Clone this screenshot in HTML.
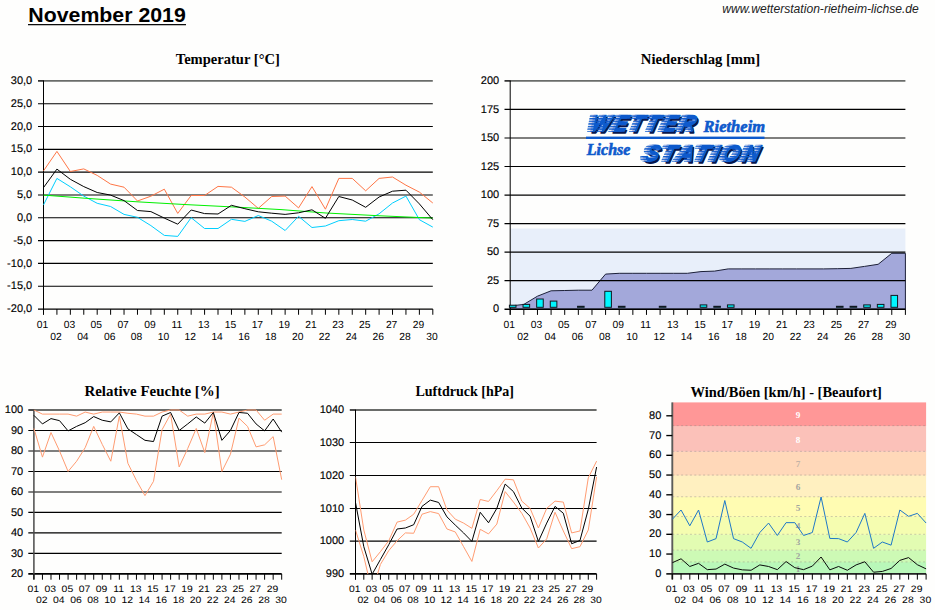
<!DOCTYPE html>
<html><head><meta charset="utf-8"><title>November 2019</title>
<style>
html,body{margin:0;padding:0;background:#fefefd;}
body{width:935px;height:610px;overflow:hidden;font-family:"Liberation Sans",sans-serif;}
svg{display:block;position:absolute;left:0;top:0;}
.ax{stroke:#000;stroke-width:1;fill:none}
.gr{stroke:#000;stroke-width:1.15;fill:none}
.lbl text{font-family:"Liberation Sans",sans-serif;fill:#000;text-rendering:geometricPrecision}
.ln{fill:none;stroke-width:1;stroke-linejoin:round}
</style></head><body>
<svg width="935" height="610" viewBox="0 0 935 610">
<rect width="935" height="610" fill="#fefefd"/>

<text x="28.3" y="21.75" textLength="157.5" lengthAdjust="spacingAndGlyphs" style="font-family:'Liberation Sans',sans-serif;font-weight:bold;font-size:19.6px" fill="#000">November 2019</text>
<rect x="28" y="24.05" width="158" height="1.2" fill="#000"/>
<text x="722.3" y="12.5" textLength="196.5" lengthAdjust="spacingAndGlyphs" style="font-family:'Liberation Sans',sans-serif;font-style:italic;font-size:12px" fill="#222">www.wetterstation-rietheim-lichse.de</text>
<text x="175.8" y="64" textLength="104" lengthAdjust="spacingAndGlyphs" style="font-family:'Liberation Serif',serif;font-weight:bold;font-size:15.5px" fill="#000">Temperatur [°C]</text>
<line x1="43.5" y1="80.9" x2="432.8" y2="80.9" stroke="#6a6c6a" stroke-width="1.8"/><line x1="38" y1="80.9" x2="44" y2="80.9" stroke="#111" stroke-width="1.5"/><line x1="38" y1="103.72" x2="432.8" y2="103.72" class="gr"/><line x1="38" y1="126.53" x2="432.8" y2="126.53" class="gr"/><line x1="38" y1="149.35" x2="432.8" y2="149.35" class="gr"/><line x1="38" y1="172.16" x2="432.8" y2="172.16" class="gr"/><line x1="38" y1="194.98" x2="432.8" y2="194.98" class="gr"/><line x1="38" y1="217.79" x2="432.8" y2="217.79" class="gr"/><line x1="38" y1="240.61" x2="432.8" y2="240.61" class="gr"/><line x1="38" y1="263.42" x2="432.8" y2="263.42" class="gr"/><line x1="38" y1="286.24" x2="432.8" y2="286.24" class="gr"/><line x1="38" y1="309.05" x2="432.8" y2="309.05" stroke="#000" stroke-width="1.3"/>
<line x1="43.5" y1="80.9" x2="43.5" y2="314.55" class="ax"/>
<line x1="43.5" y1="309.05" x2="43.5" y2="314.75" class="ax" style="stroke-width:1"/><line x1="56.92" y1="309.05" x2="56.92" y2="314.75" class="ax" style="stroke-width:1"/><line x1="70.35" y1="309.05" x2="70.35" y2="314.75" class="ax" style="stroke-width:1"/><line x1="83.77" y1="309.05" x2="83.77" y2="314.75" class="ax" style="stroke-width:1"/><line x1="97.2" y1="309.05" x2="97.2" y2="314.75" class="ax" style="stroke-width:1"/><line x1="110.62" y1="309.05" x2="110.62" y2="314.75" class="ax" style="stroke-width:1"/><line x1="124.04" y1="309.05" x2="124.04" y2="314.75" class="ax" style="stroke-width:1"/><line x1="137.47" y1="309.05" x2="137.47" y2="314.75" class="ax" style="stroke-width:1"/><line x1="150.89" y1="309.05" x2="150.89" y2="314.75" class="ax" style="stroke-width:1"/><line x1="164.32" y1="309.05" x2="164.32" y2="314.75" class="ax" style="stroke-width:1"/><line x1="177.74" y1="309.05" x2="177.74" y2="314.75" class="ax" style="stroke-width:1"/><line x1="191.17" y1="309.05" x2="191.17" y2="314.75" class="ax" style="stroke-width:1"/><line x1="204.59" y1="309.05" x2="204.59" y2="314.75" class="ax" style="stroke-width:1"/><line x1="218.01" y1="309.05" x2="218.01" y2="314.75" class="ax" style="stroke-width:1"/><line x1="231.44" y1="309.05" x2="231.44" y2="314.75" class="ax" style="stroke-width:1"/><line x1="244.86" y1="309.05" x2="244.86" y2="314.75" class="ax" style="stroke-width:1"/><line x1="258.29" y1="309.05" x2="258.29" y2="314.75" class="ax" style="stroke-width:1"/><line x1="271.71" y1="309.05" x2="271.71" y2="314.75" class="ax" style="stroke-width:1"/><line x1="285.13" y1="309.05" x2="285.13" y2="314.75" class="ax" style="stroke-width:1"/><line x1="298.56" y1="309.05" x2="298.56" y2="314.75" class="ax" style="stroke-width:1"/><line x1="311.98" y1="309.05" x2="311.98" y2="314.75" class="ax" style="stroke-width:1"/><line x1="325.41" y1="309.05" x2="325.41" y2="314.75" class="ax" style="stroke-width:1"/><line x1="338.83" y1="309.05" x2="338.83" y2="314.75" class="ax" style="stroke-width:1"/><line x1="352.26" y1="309.05" x2="352.26" y2="314.75" class="ax" style="stroke-width:1"/><line x1="365.68" y1="309.05" x2="365.68" y2="314.75" class="ax" style="stroke-width:1"/><line x1="379.1" y1="309.05" x2="379.1" y2="314.75" class="ax" style="stroke-width:1"/><line x1="392.53" y1="309.05" x2="392.53" y2="314.75" class="ax" style="stroke-width:1"/><line x1="405.95" y1="309.05" x2="405.95" y2="314.75" class="ax" style="stroke-width:1"/><line x1="419.38" y1="309.05" x2="419.38" y2="314.75" class="ax" style="stroke-width:1"/><line x1="432.8" y1="309.05" x2="432.8" y2="314.75" class="ax" style="stroke-width:1"/>
<g class="lbl"><text x="42.6" y="327.7" text-anchor="middle" style="font-size:10.3px">01</text><text x="56.02" y="339.6" text-anchor="middle" style="font-size:10.3px">02</text><text x="69.45" y="327.7" text-anchor="middle" style="font-size:10.3px">03</text><text x="82.87" y="339.6" text-anchor="middle" style="font-size:10.3px">04</text><text x="96.3" y="327.7" text-anchor="middle" style="font-size:10.3px">05</text><text x="109.72" y="339.6" text-anchor="middle" style="font-size:10.3px">06</text><text x="123.14" y="327.7" text-anchor="middle" style="font-size:10.3px">07</text><text x="136.57" y="339.6" text-anchor="middle" style="font-size:10.3px">08</text><text x="149.99" y="327.7" text-anchor="middle" style="font-size:10.3px">09</text><text x="163.42" y="339.6" text-anchor="middle" style="font-size:10.3px">10</text><text x="176.84" y="327.7" text-anchor="middle" style="font-size:10.3px">11</text><text x="190.27" y="339.6" text-anchor="middle" style="font-size:10.3px">12</text><text x="203.69" y="327.7" text-anchor="middle" style="font-size:10.3px">13</text><text x="217.11" y="339.6" text-anchor="middle" style="font-size:10.3px">14</text><text x="230.54" y="327.7" text-anchor="middle" style="font-size:10.3px">15</text><text x="243.96" y="339.6" text-anchor="middle" style="font-size:10.3px">16</text><text x="257.39" y="327.7" text-anchor="middle" style="font-size:10.3px">17</text><text x="270.81" y="339.6" text-anchor="middle" style="font-size:10.3px">18</text><text x="284.23" y="327.7" text-anchor="middle" style="font-size:10.3px">19</text><text x="297.66" y="339.6" text-anchor="middle" style="font-size:10.3px">20</text><text x="311.08" y="327.7" text-anchor="middle" style="font-size:10.3px">21</text><text x="324.51" y="339.6" text-anchor="middle" style="font-size:10.3px">22</text><text x="337.93" y="327.7" text-anchor="middle" style="font-size:10.3px">23</text><text x="351.36" y="339.6" text-anchor="middle" style="font-size:10.3px">24</text><text x="364.78" y="327.7" text-anchor="middle" style="font-size:10.3px">25</text><text x="378.2" y="339.6" text-anchor="middle" style="font-size:10.3px">26</text><text x="391.63" y="327.7" text-anchor="middle" style="font-size:10.3px">27</text><text x="405.05" y="339.6" text-anchor="middle" style="font-size:10.3px">28</text><text x="418.48" y="327.7" text-anchor="middle" style="font-size:10.3px">29</text><text x="431.9" y="339.6" text-anchor="middle" style="font-size:10.3px">30</text></g>
<g class="lbl"><text x="32.2" y="84" text-anchor="end" stroke="#000" stroke-width="0.14" style="font-size:11px">30,0</text><text x="32.2" y="106.81" text-anchor="end" stroke="#000" stroke-width="0.14" style="font-size:11px">25,0</text><text x="32.2" y="129.63" text-anchor="end" stroke="#000" stroke-width="0.14" style="font-size:11px">20,0</text><text x="32.2" y="152.45" text-anchor="end" stroke="#000" stroke-width="0.14" style="font-size:11px">15,0</text><text x="32.2" y="175.26" text-anchor="end" stroke="#000" stroke-width="0.14" style="font-size:11px">10,0</text><text x="32.2" y="198.08" text-anchor="end" stroke="#000" stroke-width="0.14" style="font-size:11px">5,0</text><text x="32.2" y="220.89" text-anchor="end" stroke="#000" stroke-width="0.14" style="font-size:11px">0,0</text><text x="32.2" y="243.71" text-anchor="end" stroke="#000" stroke-width="0.14" style="font-size:11px">-5,0</text><text x="32.2" y="266.52" text-anchor="end" stroke="#000" stroke-width="0.14" style="font-size:11px">-10,0</text><text x="32.2" y="289.34" text-anchor="end" stroke="#000" stroke-width="0.14" style="font-size:11px">-15,0</text><text x="32.2" y="312.15" text-anchor="end" stroke="#000" stroke-width="0.14" style="font-size:11px">-20,0</text></g>
<polyline points="43.5,170.9 56.92,151.4 70.35,171.5 83.77,168.9 97.2,175.4 110.62,184.1 124.04,187.2 137.47,201 150.89,196.2 164.32,189.2 177.74,213.4 191.17,195.5 204.59,195.5 218.01,186.4 231.44,187.2 244.86,197 258.29,208.4 271.71,196.5 285.13,196.1 298.56,207.9 311.98,186.6 325.41,209.2 338.83,178.4 352.26,178.4 365.68,190.8 379.1,178.4 392.53,177 405.95,185.2 419.38,192.1 432.8,203" class="ln" stroke="#ff7646"/>
<polyline points="43.5,204.9 56.92,178.4 70.35,186.8 83.77,196.1 97.2,203.3 110.62,206.5 124.04,214.4 137.47,217.3 150.89,225.6 164.32,235.4 177.74,236.4 191.17,217.7 204.59,228.5 218.01,228.5 231.44,219.3 244.86,221.4 258.29,215.5 271.71,221.2 285.13,230.5 298.56,216.3 311.98,227.5 325.41,226 338.83,220.7 352.26,219.5 365.68,221.2 379.1,213.8 392.53,203 405.95,196.1 419.38,219.7 432.8,227.1" class="ln" stroke="#00cfff"/>
<polyline points="43.5,195.1 90,198.6 137,201.8 186,204.6 236,207.1 281,209.6 326,213 380,215.8 432.8,218.1" class="ln" stroke="#00f000" stroke-width="1.2"/>
<polyline points="43.5,187.6 56.92,169.1 70.35,179.3 83.77,186.6 97.2,192.5 110.62,195.1 124.04,200.6 137.47,210.5 150.89,211.6 164.32,218.1 177.74,224.2 191.17,210 204.59,213.6 218.01,214 231.44,205.3 244.86,208.7 258.29,211.8 271.71,213.2 285.13,214.4 298.56,212.8 311.98,209.8 325.41,218.3 338.83,196.5 352.26,200 365.68,207.3 379.1,197 392.53,191.2 405.95,190.2 419.38,203.9 432.8,219.7" class="ln" stroke="#000"/>
<text x="640.8" y="63.8" textLength="119.4" lengthAdjust="spacingAndGlyphs" style="font-family:'Liberation Serif',serif;font-weight:bold;font-size:15.5px" fill="#000">Niederschlag [mm]</text>
<rect x="510.2" y="228.5" width="395.2" height="80.7" fill="#e8effa"/>
<polygon points="510.2,306 523.83,304.4 537.46,296.2 551.08,290.8 564.71,290.5 578.34,290.2 591.97,290.2 605.59,274.1 619.22,273.3 632.85,273.3 646.48,273.3 660.1,273.3 673.73,273.3 687.36,273.3 700.99,271.6 714.61,271.1 728.24,268.9 741.87,268.9 755.5,268.9 769.12,268.9 782.75,268.9 796.38,268.9 810.01,268.9 823.63,268.9 837.26,268.7 850.89,268.4 864.52,266.4 878.14,264.3 891.77,253.3 905.4,253.3 905.4,309.2 510.2,309.2" fill="#a3a8da" stroke="#1c2038" stroke-width="1" stroke-linejoin="round"/>
<line x1="510.2" y1="80.9" x2="905.4" y2="80.9" stroke="#6a6c6a" stroke-width="1.8"/><line x1="504.5" y1="80.9" x2="510.7" y2="80.9" stroke="#111" stroke-width="1.5"/><line x1="504.5" y1="109.44" x2="905.4" y2="109.44" class="gr"/><line x1="504.5" y1="137.97" x2="905.4" y2="137.97" class="gr"/><line x1="504.5" y1="166.51" x2="905.4" y2="166.51" class="gr"/><line x1="504.5" y1="195.05" x2="905.4" y2="195.05" class="gr"/><line x1="504.5" y1="223.59" x2="905.4" y2="223.59" class="gr"/><line x1="504.5" y1="252.12" x2="905.4" y2="252.12" class="gr"/><line x1="504.5" y1="280.66" x2="905.4" y2="280.66" class="gr"/><line x1="504.5" y1="309.2" x2="905.4" y2="309.2" stroke="#000" stroke-width="1.6"/>
<line x1="510.2" y1="80.9" x2="510.2" y2="314.7" class="ax"/>
<rect x="509.4" y="305.2" width="6.6" height="2.1" fill="#00f6ff" stroke="#101820" stroke-width="1"/><rect x="523.03" y="304.4" width="6.6" height="2.9" fill="#00f6ff" stroke="#101820" stroke-width="1"/><rect x="536.66" y="299" width="6.6" height="8.3" fill="#00f6ff" stroke="#101820" stroke-width="1"/><rect x="550.28" y="301.1" width="6.6" height="6.2" fill="#00f6ff" stroke="#101820" stroke-width="1"/><rect x="577.54" y="306.3" width="6.6" height="1" fill="#00f6ff" stroke="#101820" stroke-width="1"/><rect x="604.79" y="291.3" width="6.6" height="16" fill="#00f6ff" stroke="#101820" stroke-width="1"/><rect x="618.42" y="306.3" width="6.6" height="1" fill="#00f6ff" stroke="#101820" stroke-width="1"/><rect x="659.3" y="306.3" width="6.6" height="1" fill="#00f6ff" stroke="#101820" stroke-width="1"/><rect x="700.19" y="304.9" width="6.6" height="2.4" fill="#00f6ff" stroke="#101820" stroke-width="1"/><rect x="713.81" y="306.3" width="6.6" height="1" fill="#00f6ff" stroke="#101820" stroke-width="1"/><rect x="727.44" y="304.9" width="6.6" height="2.4" fill="#00f6ff" stroke="#101820" stroke-width="1"/><rect x="836.46" y="306.3" width="6.6" height="1" fill="#00f6ff" stroke="#101820" stroke-width="1"/><rect x="850.09" y="306.3" width="6.6" height="1" fill="#00f6ff" stroke="#101820" stroke-width="1"/><rect x="863.72" y="304.9" width="6.6" height="2.4" fill="#00f6ff" stroke="#101820" stroke-width="1"/><rect x="877.34" y="304.4" width="6.6" height="2.9" fill="#00f6ff" stroke="#101820" stroke-width="1"/><rect x="890.97" y="295.4" width="6.6" height="11.9" fill="#00f6ff" stroke="#101820" stroke-width="1"/>
<line x1="510.2" y1="309.2" x2="510.2" y2="314.9" class="ax" style="stroke-width:1"/><line x1="523.83" y1="309.2" x2="523.83" y2="314.9" class="ax" style="stroke-width:1"/><line x1="537.46" y1="309.2" x2="537.46" y2="314.9" class="ax" style="stroke-width:1"/><line x1="551.08" y1="309.2" x2="551.08" y2="314.9" class="ax" style="stroke-width:1"/><line x1="564.71" y1="309.2" x2="564.71" y2="314.9" class="ax" style="stroke-width:1"/><line x1="578.34" y1="309.2" x2="578.34" y2="314.9" class="ax" style="stroke-width:1"/><line x1="591.97" y1="309.2" x2="591.97" y2="314.9" class="ax" style="stroke-width:1"/><line x1="605.59" y1="309.2" x2="605.59" y2="314.9" class="ax" style="stroke-width:1"/><line x1="619.22" y1="309.2" x2="619.22" y2="314.9" class="ax" style="stroke-width:1"/><line x1="632.85" y1="309.2" x2="632.85" y2="314.9" class="ax" style="stroke-width:1"/><line x1="646.48" y1="309.2" x2="646.48" y2="314.9" class="ax" style="stroke-width:1"/><line x1="660.1" y1="309.2" x2="660.1" y2="314.9" class="ax" style="stroke-width:1"/><line x1="673.73" y1="309.2" x2="673.73" y2="314.9" class="ax" style="stroke-width:1"/><line x1="687.36" y1="309.2" x2="687.36" y2="314.9" class="ax" style="stroke-width:1"/><line x1="700.99" y1="309.2" x2="700.99" y2="314.9" class="ax" style="stroke-width:1"/><line x1="714.61" y1="309.2" x2="714.61" y2="314.9" class="ax" style="stroke-width:1"/><line x1="728.24" y1="309.2" x2="728.24" y2="314.9" class="ax" style="stroke-width:1"/><line x1="741.87" y1="309.2" x2="741.87" y2="314.9" class="ax" style="stroke-width:1"/><line x1="755.5" y1="309.2" x2="755.5" y2="314.9" class="ax" style="stroke-width:1"/><line x1="769.12" y1="309.2" x2="769.12" y2="314.9" class="ax" style="stroke-width:1"/><line x1="782.75" y1="309.2" x2="782.75" y2="314.9" class="ax" style="stroke-width:1"/><line x1="796.38" y1="309.2" x2="796.38" y2="314.9" class="ax" style="stroke-width:1"/><line x1="810.01" y1="309.2" x2="810.01" y2="314.9" class="ax" style="stroke-width:1"/><line x1="823.63" y1="309.2" x2="823.63" y2="314.9" class="ax" style="stroke-width:1"/><line x1="837.26" y1="309.2" x2="837.26" y2="314.9" class="ax" style="stroke-width:1"/><line x1="850.89" y1="309.2" x2="850.89" y2="314.9" class="ax" style="stroke-width:1"/><line x1="864.52" y1="309.2" x2="864.52" y2="314.9" class="ax" style="stroke-width:1"/><line x1="878.14" y1="309.2" x2="878.14" y2="314.9" class="ax" style="stroke-width:1"/><line x1="891.77" y1="309.2" x2="891.77" y2="314.9" class="ax" style="stroke-width:1"/><line x1="905.4" y1="309.2" x2="905.4" y2="314.9" class="ax" style="stroke-width:1"/>
<g class="lbl"><text x="509.3" y="327.7" text-anchor="middle" style="font-size:10.3px">01</text><text x="522.93" y="339.6" text-anchor="middle" style="font-size:10.3px">02</text><text x="536.56" y="327.7" text-anchor="middle" style="font-size:10.3px">03</text><text x="550.18" y="339.6" text-anchor="middle" style="font-size:10.3px">04</text><text x="563.81" y="327.7" text-anchor="middle" style="font-size:10.3px">05</text><text x="577.44" y="339.6" text-anchor="middle" style="font-size:10.3px">06</text><text x="591.07" y="327.7" text-anchor="middle" style="font-size:10.3px">07</text><text x="604.69" y="339.6" text-anchor="middle" style="font-size:10.3px">08</text><text x="618.32" y="327.7" text-anchor="middle" style="font-size:10.3px">09</text><text x="631.95" y="339.6" text-anchor="middle" style="font-size:10.3px">10</text><text x="645.58" y="327.7" text-anchor="middle" style="font-size:10.3px">11</text><text x="659.2" y="339.6" text-anchor="middle" style="font-size:10.3px">12</text><text x="672.83" y="327.7" text-anchor="middle" style="font-size:10.3px">13</text><text x="686.46" y="339.6" text-anchor="middle" style="font-size:10.3px">14</text><text x="700.09" y="327.7" text-anchor="middle" style="font-size:10.3px">15</text><text x="713.71" y="339.6" text-anchor="middle" style="font-size:10.3px">16</text><text x="727.34" y="327.7" text-anchor="middle" style="font-size:10.3px">17</text><text x="740.97" y="339.6" text-anchor="middle" style="font-size:10.3px">18</text><text x="754.6" y="327.7" text-anchor="middle" style="font-size:10.3px">19</text><text x="768.22" y="339.6" text-anchor="middle" style="font-size:10.3px">20</text><text x="781.85" y="327.7" text-anchor="middle" style="font-size:10.3px">21</text><text x="795.48" y="339.6" text-anchor="middle" style="font-size:10.3px">22</text><text x="809.11" y="327.7" text-anchor="middle" style="font-size:10.3px">23</text><text x="822.73" y="339.6" text-anchor="middle" style="font-size:10.3px">24</text><text x="836.36" y="327.7" text-anchor="middle" style="font-size:10.3px">25</text><text x="849.99" y="339.6" text-anchor="middle" style="font-size:10.3px">26</text><text x="863.62" y="327.7" text-anchor="middle" style="font-size:10.3px">27</text><text x="877.24" y="339.6" text-anchor="middle" style="font-size:10.3px">28</text><text x="890.87" y="327.7" text-anchor="middle" style="font-size:10.3px">29</text><text x="904.5" y="339.6" text-anchor="middle" style="font-size:10.3px">30</text></g>
<g class="lbl"><text x="499.2" y="84" text-anchor="end" stroke="#000" stroke-width="0.14" style="font-size:11px">200</text><text x="499.2" y="112.54" text-anchor="end" stroke="#000" stroke-width="0.14" style="font-size:11px">175</text><text x="499.2" y="141.07" text-anchor="end" stroke="#000" stroke-width="0.14" style="font-size:11px">150</text><text x="499.2" y="169.61" text-anchor="end" stroke="#000" stroke-width="0.14" style="font-size:11px">125</text><text x="499.2" y="198.15" text-anchor="end" stroke="#000" stroke-width="0.14" style="font-size:11px">100</text><text x="499.2" y="226.69" text-anchor="end" stroke="#000" stroke-width="0.14" style="font-size:11px">75</text><text x="499.2" y="255.22" text-anchor="end" stroke="#000" stroke-width="0.14" style="font-size:11px">50</text><text x="499.2" y="283.76" text-anchor="end" stroke="#000" stroke-width="0.14" style="font-size:11px">25</text><text x="499.2" y="312.3" text-anchor="end" stroke="#000" stroke-width="0.14" style="font-size:11px">0</text></g>
<defs>
<pattern id="stB" width="40" height="2.6" patternUnits="userSpaceOnUse"><rect width="40" height="1.45" fill="#fff"/></pattern>
<pattern id="stW" width="40" height="2.6" patternUnits="userSpaceOnUse"><rect y="1.6" width="40" height="0.85" fill="#fefefd"/></pattern>
<pattern id="stW2" width="40" height="5.2" patternUnits="userSpaceOnUse"><rect y="1.45" width="40" height="1.15" fill="#fefefd"/></pattern>
</defs>
<rect x="586" y="136.6" width="178.5" height="2.4" fill="#0e5acc"/>
<g transform="translate(588.4,131) skewX(-14) scale(0.965,1)">
<defs><mask id="hs1" maskUnits="userSpaceOnUse" x="-20" y="-30" width="200" height="50"><rect x="-20" y="-30" width="200" height="50" fill="url(#stB)"/></mask>
<mask id="he1" maskUnits="userSpaceOnUse" x="-20" y="-30" width="200" height="50"><text x="0" y="0" style="font-family:'Liberation Sans',sans-serif;font-weight:bold;font-style:italic;font-size:22.5px;letter-spacing:2.9px" fill="#fff" stroke="#fff" stroke-width="1.5" stroke-linejoin="round">WETTER</text><text x="2.69" y="0" style="font-family:'Liberation Sans',sans-serif;font-weight:bold;font-style:italic;font-size:22.5px;letter-spacing:2.9px" fill="#000" stroke="#000" stroke-width="1.5" stroke-linejoin="round">WETTER</text></mask>
<mask id="hf1" maskUnits="userSpaceOnUse" x="-20" y="-30" width="200" height="50"><text x="0" y="0" style="font-family:'Liberation Sans',sans-serif;font-weight:bold;font-style:italic;font-size:22.5px;letter-spacing:2.9px" fill="#fff" stroke="#fff" stroke-width="1.5" stroke-linejoin="round">WETTER</text><text x="6.74" y="0" style="font-family:'Liberation Sans',sans-serif;font-weight:bold;font-style:italic;font-size:22.5px;letter-spacing:2.9px" fill="#000" stroke="#000" stroke-width="1.5" stroke-linejoin="round">WETTER</text></mask></defs>
<text x="1.55" y="1.5" style="font-family:'Liberation Sans',sans-serif;font-weight:bold;font-style:italic;font-size:22.5px;letter-spacing:2.9px" fill="#08164e" stroke="#08164e" stroke-width="1.5" stroke-linejoin="round">WETTER</text>
<g mask="url(#hs1)"><text x="-3.32" y="0" style="font-family:'Liberation Sans',sans-serif;font-weight:bold;font-style:italic;font-size:22.5px;letter-spacing:2.9px" fill="#0e5acc" stroke="#0e5acc" stroke-width="1.5" stroke-linejoin="round">WETTER</text></g>
<text x="0" y="0" style="font-family:'Liberation Sans',sans-serif;font-weight:bold;font-style:italic;font-size:22.5px;letter-spacing:2.9px" fill="#0e5acc" stroke="#0e5acc" stroke-width="1.5" stroke-linejoin="round">WETTER</text>
<rect x="-20" y="-30" width="200" height="50" fill="url(#stW)" mask="url(#he1)" opacity="0.75"/>
</g>
<g transform="translate(642.6,161.2) skewX(-14) scale(1.02,1)">
<defs><mask id="hs2" maskUnits="userSpaceOnUse" x="-20" y="-30" width="200" height="50"><rect x="-20" y="-30" width="200" height="50" fill="url(#stB)"/></mask>
<mask id="he2" maskUnits="userSpaceOnUse" x="-20" y="-30" width="200" height="50"><text x="0" y="0" style="font-family:'Liberation Sans',sans-serif;font-weight:bold;font-style:italic;font-size:22.5px;letter-spacing:2.9px" fill="#fff" stroke="#fff" stroke-width="1.5" stroke-linejoin="round">STATION</text><text x="2.55" y="0" style="font-family:'Liberation Sans',sans-serif;font-weight:bold;font-style:italic;font-size:22.5px;letter-spacing:2.9px" fill="#000" stroke="#000" stroke-width="1.5" stroke-linejoin="round">STATION</text></mask>
<mask id="hf2" maskUnits="userSpaceOnUse" x="-20" y="-30" width="200" height="50"><text x="0" y="0" style="font-family:'Liberation Sans',sans-serif;font-weight:bold;font-style:italic;font-size:22.5px;letter-spacing:2.9px" fill="#fff" stroke="#fff" stroke-width="1.5" stroke-linejoin="round">STATION</text><text x="6.37" y="0" style="font-family:'Liberation Sans',sans-serif;font-weight:bold;font-style:italic;font-size:22.5px;letter-spacing:2.9px" fill="#000" stroke="#000" stroke-width="1.5" stroke-linejoin="round">STATION</text></mask></defs>
<text x="1.47" y="1.5" style="font-family:'Liberation Sans',sans-serif;font-weight:bold;font-style:italic;font-size:22.5px;letter-spacing:2.9px" fill="#08164e" stroke="#08164e" stroke-width="1.5" stroke-linejoin="round">STATION</text>
<g mask="url(#hs2)"><text x="-3.14" y="0" style="font-family:'Liberation Sans',sans-serif;font-weight:bold;font-style:italic;font-size:22.5px;letter-spacing:2.9px" fill="#0e5acc" stroke="#0e5acc" stroke-width="1.5" stroke-linejoin="round">STATION</text></g>
<text x="0" y="0" style="font-family:'Liberation Sans',sans-serif;font-weight:bold;font-style:italic;font-size:22.5px;letter-spacing:2.9px" fill="#0e5acc" stroke="#0e5acc" stroke-width="1.5" stroke-linejoin="round">STATION</text>
<rect x="-20" y="-30" width="200" height="50" fill="url(#stW)" mask="url(#he2)" opacity="0.75"/>
</g>
<text x="703.6" y="132.1" textLength="61.5" lengthAdjust="spacingAndGlyphs" style="font-family:'Liberation Serif',serif;font-weight:bold;font-style:italic;font-size:16px" fill="#0e5acc" stroke="#0e5acc" stroke-width="0.6">Rietheim</text>
<text x="586.8" y="155.3" textLength="43.6" lengthAdjust="spacingAndGlyphs" style="font-family:'Liberation Serif',serif;font-weight:bold;font-style:italic;font-size:16px" fill="#0e5acc" stroke="#0e5acc" stroke-width="0.6">Lichse</text>
<text x="84.4" y="395.7" textLength="135.4" lengthAdjust="spacingAndGlyphs" style="font-family:'Liberation Serif',serif;font-weight:bold;font-size:15.5px" fill="#000">Relative Feuchte [%]</text>
<line x1="33.9" y1="410" x2="281.7" y2="410" stroke="#6a6c6a" stroke-width="1.8"/><line x1="28.3" y1="410" x2="34.4" y2="410" stroke="#111" stroke-width="1.5"/><line x1="28.3" y1="430.49" x2="281.7" y2="430.49" class="gr"/><line x1="28.3" y1="450.98" x2="281.7" y2="450.98" class="gr"/><line x1="28.3" y1="471.46" x2="281.7" y2="471.46" class="gr"/><line x1="28.3" y1="491.95" x2="281.7" y2="491.95" class="gr"/><line x1="28.3" y1="512.44" x2="281.7" y2="512.44" class="gr"/><line x1="28.3" y1="532.92" x2="281.7" y2="532.92" class="gr"/><line x1="28.3" y1="553.41" x2="281.7" y2="553.41" class="gr"/><line x1="28.3" y1="573.9" x2="281.7" y2="573.9" stroke="#000" stroke-width="1.7"/>
<line x1="33.9" y1="410" x2="33.9" y2="579.5" class="ax" style="stroke-width:1.5;stroke:#4a4a4a"/>
<line x1="33.9" y1="573.9" x2="33.9" y2="579.7" class="ax" style="stroke-width:1"/><line x1="42.44" y1="573.9" x2="42.44" y2="579.7" class="ax" style="stroke-width:1"/><line x1="50.99" y1="573.9" x2="50.99" y2="579.7" class="ax" style="stroke-width:1"/><line x1="59.53" y1="573.9" x2="59.53" y2="579.7" class="ax" style="stroke-width:1"/><line x1="68.08" y1="573.9" x2="68.08" y2="579.7" class="ax" style="stroke-width:1"/><line x1="76.62" y1="573.9" x2="76.62" y2="579.7" class="ax" style="stroke-width:1"/><line x1="85.17" y1="573.9" x2="85.17" y2="579.7" class="ax" style="stroke-width:1"/><line x1="93.71" y1="573.9" x2="93.71" y2="579.7" class="ax" style="stroke-width:1"/><line x1="102.26" y1="573.9" x2="102.26" y2="579.7" class="ax" style="stroke-width:1"/><line x1="110.8" y1="573.9" x2="110.8" y2="579.7" class="ax" style="stroke-width:1"/><line x1="119.35" y1="573.9" x2="119.35" y2="579.7" class="ax" style="stroke-width:1"/><line x1="127.89" y1="573.9" x2="127.89" y2="579.7" class="ax" style="stroke-width:1"/><line x1="136.44" y1="573.9" x2="136.44" y2="579.7" class="ax" style="stroke-width:1"/><line x1="144.98" y1="573.9" x2="144.98" y2="579.7" class="ax" style="stroke-width:1"/><line x1="153.53" y1="573.9" x2="153.53" y2="579.7" class="ax" style="stroke-width:1"/><line x1="162.07" y1="573.9" x2="162.07" y2="579.7" class="ax" style="stroke-width:1"/><line x1="170.62" y1="573.9" x2="170.62" y2="579.7" class="ax" style="stroke-width:1"/><line x1="179.16" y1="573.9" x2="179.16" y2="579.7" class="ax" style="stroke-width:1"/><line x1="187.71" y1="573.9" x2="187.71" y2="579.7" class="ax" style="stroke-width:1"/><line x1="196.25" y1="573.9" x2="196.25" y2="579.7" class="ax" style="stroke-width:1"/><line x1="204.8" y1="573.9" x2="204.8" y2="579.7" class="ax" style="stroke-width:1"/><line x1="213.34" y1="573.9" x2="213.34" y2="579.7" class="ax" style="stroke-width:1"/><line x1="221.89" y1="573.9" x2="221.89" y2="579.7" class="ax" style="stroke-width:1"/><line x1="230.43" y1="573.9" x2="230.43" y2="579.7" class="ax" style="stroke-width:1"/><line x1="238.98" y1="573.9" x2="238.98" y2="579.7" class="ax" style="stroke-width:1"/><line x1="247.52" y1="573.9" x2="247.52" y2="579.7" class="ax" style="stroke-width:1"/><line x1="256.07" y1="573.9" x2="256.07" y2="579.7" class="ax" style="stroke-width:1"/><line x1="264.61" y1="573.9" x2="264.61" y2="579.7" class="ax" style="stroke-width:1"/><line x1="273.16" y1="573.9" x2="273.16" y2="579.7" class="ax" style="stroke-width:1"/><line x1="281.7" y1="573.9" x2="281.7" y2="579.7" class="ax" style="stroke-width:1"/>
<g class="lbl"><text transform="translate(33.2,591.9) scale(1.04,0.93)" text-anchor="middle" style="font-size:10px">01</text><text transform="translate(41.74,602.9) scale(1.04,0.93)" text-anchor="middle" style="font-size:10px">02</text><text transform="translate(50.29,591.9) scale(1.04,0.93)" text-anchor="middle" style="font-size:10px">03</text><text transform="translate(58.83,602.9) scale(1.04,0.93)" text-anchor="middle" style="font-size:10px">04</text><text transform="translate(67.38,591.9) scale(1.04,0.93)" text-anchor="middle" style="font-size:10px">05</text><text transform="translate(75.92,602.9) scale(1.04,0.93)" text-anchor="middle" style="font-size:10px">06</text><text transform="translate(84.47,591.9) scale(1.04,0.93)" text-anchor="middle" style="font-size:10px">07</text><text transform="translate(93.01,602.9) scale(1.04,0.93)" text-anchor="middle" style="font-size:10px">08</text><text transform="translate(101.56,591.9) scale(1.04,0.93)" text-anchor="middle" style="font-size:10px">09</text><text transform="translate(110.1,602.9) scale(1.04,0.93)" text-anchor="middle" style="font-size:10px">10</text><text transform="translate(118.65,591.9) scale(1.04,0.93)" text-anchor="middle" style="font-size:10px">11</text><text transform="translate(127.19,602.9) scale(1.04,0.93)" text-anchor="middle" style="font-size:10px">12</text><text transform="translate(135.74,591.9) scale(1.04,0.93)" text-anchor="middle" style="font-size:10px">13</text><text transform="translate(144.28,602.9) scale(1.04,0.93)" text-anchor="middle" style="font-size:10px">14</text><text transform="translate(152.83,591.9) scale(1.04,0.93)" text-anchor="middle" style="font-size:10px">15</text><text transform="translate(161.37,602.9) scale(1.04,0.93)" text-anchor="middle" style="font-size:10px">16</text><text transform="translate(169.92,591.9) scale(1.04,0.93)" text-anchor="middle" style="font-size:10px">17</text><text transform="translate(178.46,602.9) scale(1.04,0.93)" text-anchor="middle" style="font-size:10px">18</text><text transform="translate(187.01,591.9) scale(1.04,0.93)" text-anchor="middle" style="font-size:10px">19</text><text transform="translate(195.55,602.9) scale(1.04,0.93)" text-anchor="middle" style="font-size:10px">20</text><text transform="translate(204.1,591.9) scale(1.04,0.93)" text-anchor="middle" style="font-size:10px">21</text><text transform="translate(212.64,602.9) scale(1.04,0.93)" text-anchor="middle" style="font-size:10px">22</text><text transform="translate(221.19,591.9) scale(1.04,0.93)" text-anchor="middle" style="font-size:10px">23</text><text transform="translate(229.73,602.9) scale(1.04,0.93)" text-anchor="middle" style="font-size:10px">24</text><text transform="translate(238.28,591.9) scale(1.04,0.93)" text-anchor="middle" style="font-size:10px">25</text><text transform="translate(246.82,602.9) scale(1.04,0.93)" text-anchor="middle" style="font-size:10px">26</text><text transform="translate(255.37,591.9) scale(1.04,0.93)" text-anchor="middle" style="font-size:10px">27</text><text transform="translate(263.91,602.9) scale(1.04,0.93)" text-anchor="middle" style="font-size:10px">28</text><text transform="translate(272.46,591.9) scale(1.04,0.93)" text-anchor="middle" style="font-size:10px">29</text><text transform="translate(281,602.9) scale(1.04,0.93)" text-anchor="middle" style="font-size:10px">30</text></g>
<g class="lbl"><text x="23.2" y="413.1" text-anchor="end" stroke="#000" stroke-width="0.14" style="font-size:11px">100</text><text x="23.2" y="433.59" text-anchor="end" stroke="#000" stroke-width="0.14" style="font-size:11px">90</text><text x="23.2" y="454.08" text-anchor="end" stroke="#000" stroke-width="0.14" style="font-size:11px">80</text><text x="23.2" y="474.56" text-anchor="end" stroke="#000" stroke-width="0.14" style="font-size:11px">70</text><text x="23.2" y="495.05" text-anchor="end" stroke="#000" stroke-width="0.14" style="font-size:11px">60</text><text x="23.2" y="515.54" text-anchor="end" stroke="#000" stroke-width="0.14" style="font-size:11px">50</text><text x="23.2" y="536.02" text-anchor="end" stroke="#000" stroke-width="0.14" style="font-size:11px">40</text><text x="23.2" y="556.51" text-anchor="end" stroke="#000" stroke-width="0.14" style="font-size:11px">30</text><text x="23.2" y="577" text-anchor="end" stroke="#000" stroke-width="0.14" style="font-size:11px">20</text></g>
<polyline points="33.9,410 42.44,414.1 50.99,414.1 59.53,414.1 68.08,414.1 76.62,416.15 85.17,412.05 93.71,414.1 102.26,412.05 110.8,412.05 119.35,412.05 127.89,413.28 136.44,414.1 144.98,416.15 153.53,416.15 162.07,412.05 170.62,410 179.16,410 187.71,416.15 196.25,414.1 204.8,414.1 213.34,412.05 221.89,412.05 230.43,414.1 238.98,412.05 247.52,410 256.07,410 264.61,420.24 273.16,414.1 281.7,414.1" class="ln" stroke="#ff9c72"/>
<polyline points="33.9,428.44 42.44,457.12 50.99,432.54 59.53,450.98 68.08,471.46 76.62,461.22 85.17,447.7 93.71,426.39 102.26,444.42 110.8,461.22 119.35,416.15 127.89,463.27 136.44,480.48 144.98,495.64 153.53,481.3 162.07,429.67 170.62,414.1 179.16,466.96 187.71,448.52 196.25,428.44 204.8,452.61 213.34,412.46 221.89,471.46 230.43,454.25 238.98,418.19 247.52,426.39 256.07,446.88 264.61,444.83 273.16,436.63 281.7,479.66" class="ln" stroke="#ff9c72"/>
<polyline points="33.9,415.33 42.44,423.93 50.99,418.6 59.53,420.65 68.08,430.9 76.62,426.39 85.17,422.7 93.71,416.56 102.26,420.24 110.8,421.88 119.35,412.87 127.89,428.85 136.44,434.58 144.98,440.32 153.53,441.55 162.07,416.15 170.62,412.46 179.16,430.49 187.71,423.93 196.25,416.97 204.8,423.11 213.34,412.46 221.89,440.32 230.43,430.49 238.98,412.46 247.52,413.28 256.07,423.93 264.61,430.9 273.16,419.01 281.7,432.13" class="ln" stroke="#000"/>
<text x="415.4" y="396.2" textLength="98.6" lengthAdjust="spacingAndGlyphs" style="font-family:'Liberation Serif',serif;font-weight:bold;font-size:15.5px" fill="#000">Luftdruck [hPa]</text>
<line x1="355.5" y1="410" x2="596.6" y2="410" stroke="#6a6c6a" stroke-width="1.8"/><line x1="349.8" y1="410" x2="356" y2="410" stroke="#111" stroke-width="1.5"/><line x1="349.8" y1="442.5" x2="596.6" y2="442.5" class="gr"/><line x1="349.8" y1="475.5" x2="596.6" y2="475.5" class="gr"/><line x1="349.8" y1="508.5" x2="596.6" y2="508.5" class="gr"/><line x1="349.8" y1="541.1" x2="596.6" y2="541.1" class="gr"/><line x1="349.8" y1="573.9" x2="596.6" y2="573.9" stroke="#000" stroke-width="1.8"/>
<line x1="355.5" y1="410" x2="355.5" y2="579.5" class="ax"/>
<line x1="355.5" y1="573.9" x2="355.5" y2="579.7" class="ax" style="stroke-width:1"/><line x1="363.81" y1="573.9" x2="363.81" y2="579.7" class="ax" style="stroke-width:1"/><line x1="372.13" y1="573.9" x2="372.13" y2="579.7" class="ax" style="stroke-width:1"/><line x1="380.44" y1="573.9" x2="380.44" y2="579.7" class="ax" style="stroke-width:1"/><line x1="388.76" y1="573.9" x2="388.76" y2="579.7" class="ax" style="stroke-width:1"/><line x1="397.07" y1="573.9" x2="397.07" y2="579.7" class="ax" style="stroke-width:1"/><line x1="405.38" y1="573.9" x2="405.38" y2="579.7" class="ax" style="stroke-width:1"/><line x1="413.7" y1="573.9" x2="413.7" y2="579.7" class="ax" style="stroke-width:1"/><line x1="422.01" y1="573.9" x2="422.01" y2="579.7" class="ax" style="stroke-width:1"/><line x1="430.32" y1="573.9" x2="430.32" y2="579.7" class="ax" style="stroke-width:1"/><line x1="438.64" y1="573.9" x2="438.64" y2="579.7" class="ax" style="stroke-width:1"/><line x1="446.95" y1="573.9" x2="446.95" y2="579.7" class="ax" style="stroke-width:1"/><line x1="455.27" y1="573.9" x2="455.27" y2="579.7" class="ax" style="stroke-width:1"/><line x1="463.58" y1="573.9" x2="463.58" y2="579.7" class="ax" style="stroke-width:1"/><line x1="471.89" y1="573.9" x2="471.89" y2="579.7" class="ax" style="stroke-width:1"/><line x1="480.21" y1="573.9" x2="480.21" y2="579.7" class="ax" style="stroke-width:1"/><line x1="488.52" y1="573.9" x2="488.52" y2="579.7" class="ax" style="stroke-width:1"/><line x1="496.83" y1="573.9" x2="496.83" y2="579.7" class="ax" style="stroke-width:1"/><line x1="505.15" y1="573.9" x2="505.15" y2="579.7" class="ax" style="stroke-width:1"/><line x1="513.46" y1="573.9" x2="513.46" y2="579.7" class="ax" style="stroke-width:1"/><line x1="521.78" y1="573.9" x2="521.78" y2="579.7" class="ax" style="stroke-width:1"/><line x1="530.09" y1="573.9" x2="530.09" y2="579.7" class="ax" style="stroke-width:1"/><line x1="538.4" y1="573.9" x2="538.4" y2="579.7" class="ax" style="stroke-width:1"/><line x1="546.72" y1="573.9" x2="546.72" y2="579.7" class="ax" style="stroke-width:1"/><line x1="555.03" y1="573.9" x2="555.03" y2="579.7" class="ax" style="stroke-width:1"/><line x1="563.34" y1="573.9" x2="563.34" y2="579.7" class="ax" style="stroke-width:1"/><line x1="571.66" y1="573.9" x2="571.66" y2="579.7" class="ax" style="stroke-width:1"/><line x1="579.97" y1="573.9" x2="579.97" y2="579.7" class="ax" style="stroke-width:1"/><line x1="588.29" y1="573.9" x2="588.29" y2="579.7" class="ax" style="stroke-width:1"/><line x1="596.6" y1="573.9" x2="596.6" y2="579.7" class="ax" style="stroke-width:1"/>
<g class="lbl"><text transform="translate(354.8,591.9) scale(1.03,0.93)" text-anchor="middle" style="font-size:10px">01</text><text transform="translate(363.11,602.9) scale(1.03,0.93)" text-anchor="middle" style="font-size:10px">02</text><text transform="translate(371.43,591.9) scale(1.03,0.93)" text-anchor="middle" style="font-size:10px">03</text><text transform="translate(379.74,602.9) scale(1.03,0.93)" text-anchor="middle" style="font-size:10px">04</text><text transform="translate(388.06,591.9) scale(1.03,0.93)" text-anchor="middle" style="font-size:10px">05</text><text transform="translate(396.37,602.9) scale(1.03,0.93)" text-anchor="middle" style="font-size:10px">06</text><text transform="translate(404.68,591.9) scale(1.03,0.93)" text-anchor="middle" style="font-size:10px">07</text><text transform="translate(413,602.9) scale(1.03,0.93)" text-anchor="middle" style="font-size:10px">08</text><text transform="translate(421.31,591.9) scale(1.03,0.93)" text-anchor="middle" style="font-size:10px">09</text><text transform="translate(429.62,602.9) scale(1.03,0.93)" text-anchor="middle" style="font-size:10px">10</text><text transform="translate(437.94,591.9) scale(1.03,0.93)" text-anchor="middle" style="font-size:10px">11</text><text transform="translate(446.25,602.9) scale(1.03,0.93)" text-anchor="middle" style="font-size:10px">12</text><text transform="translate(454.57,591.9) scale(1.03,0.93)" text-anchor="middle" style="font-size:10px">13</text><text transform="translate(462.88,602.9) scale(1.03,0.93)" text-anchor="middle" style="font-size:10px">14</text><text transform="translate(471.19,591.9) scale(1.03,0.93)" text-anchor="middle" style="font-size:10px">15</text><text transform="translate(479.51,602.9) scale(1.03,0.93)" text-anchor="middle" style="font-size:10px">16</text><text transform="translate(487.82,591.9) scale(1.03,0.93)" text-anchor="middle" style="font-size:10px">17</text><text transform="translate(496.13,602.9) scale(1.03,0.93)" text-anchor="middle" style="font-size:10px">18</text><text transform="translate(504.45,591.9) scale(1.03,0.93)" text-anchor="middle" style="font-size:10px">19</text><text transform="translate(512.76,602.9) scale(1.03,0.93)" text-anchor="middle" style="font-size:10px">20</text><text transform="translate(521.08,591.9) scale(1.03,0.93)" text-anchor="middle" style="font-size:10px">21</text><text transform="translate(529.39,602.9) scale(1.03,0.93)" text-anchor="middle" style="font-size:10px">22</text><text transform="translate(537.7,591.9) scale(1.03,0.93)" text-anchor="middle" style="font-size:10px">23</text><text transform="translate(546.02,602.9) scale(1.03,0.93)" text-anchor="middle" style="font-size:10px">24</text><text transform="translate(554.33,591.9) scale(1.03,0.93)" text-anchor="middle" style="font-size:10px">25</text><text transform="translate(562.64,602.9) scale(1.03,0.93)" text-anchor="middle" style="font-size:10px">26</text><text transform="translate(570.96,591.9) scale(1.03,0.93)" text-anchor="middle" style="font-size:10px">27</text><text transform="translate(579.27,602.9) scale(1.03,0.93)" text-anchor="middle" style="font-size:10px">28</text><text transform="translate(587.59,591.9) scale(1.03,0.93)" text-anchor="middle" style="font-size:10px">29</text><text transform="translate(595.9,602.9) scale(1.03,0.93)" text-anchor="middle" style="font-size:10px">30</text></g>
<g class="lbl"><text x="344.2" y="413.1" text-anchor="end" stroke="#000" stroke-width="0.14" style="font-size:11px">1040</text><text x="344.2" y="445.6" text-anchor="end" stroke="#000" stroke-width="0.14" style="font-size:11px">1030</text><text x="344.2" y="478.6" text-anchor="end" stroke="#000" stroke-width="0.14" style="font-size:11px">1020</text><text x="344.2" y="511.6" text-anchor="end" stroke="#000" stroke-width="0.14" style="font-size:11px">1010</text><text x="344.2" y="544.2" text-anchor="end" stroke="#000" stroke-width="0.14" style="font-size:11px">1000</text><text x="344.2" y="577" text-anchor="end" stroke="#000" stroke-width="0.14" style="font-size:11px">990</text></g>
<clipPath id="lc"><rect x="355.5" y="410" width="242.1" height="163.9"/></clipPath>
<g clip-path="url(#lc)">
<polyline points="355.5,476.87 363.81,529.97 372.13,561.77 380.44,551.61 388.76,540.79 397.07,522.11 405.38,520.14 413.7,514.24 422.01,500.47 430.32,486.71 438.64,486.71 446.95,509.98 455.27,519.16 463.58,523.09 471.89,528.34 480.21,499.49 488.52,501.46 496.83,490.64 505.15,479.17 513.46,479.82 521.78,501.13 530.09,508.34 538.4,528.01 546.72,508.34 555.03,501.13 563.34,502.11 571.66,532.92 579.97,530.96 588.29,477.85 596.6,461.14" class="ln" stroke="#ff9c72"/>
<polyline points="355.5,529.97 363.81,556.53 372.13,591.93 380.44,564.39 388.76,550.63 397.07,540.79 405.38,532.92 413.7,533.25 422.01,514.24 430.32,511.62 438.64,513.58 446.95,528.99 455.27,531.94 463.58,546.69 471.89,561.44 480.21,529.32 488.52,533.91 496.83,524.07 505.15,491.62 513.46,502.11 521.78,513.26 530.09,528.01 538.4,548 546.72,538.83 555.03,512.27 563.34,530.96 571.66,548.66 579.97,546.69 588.29,529.97 596.6,476.87" class="ln" stroke="#ff9c72"/>
<polyline points="355.5,502.44 363.81,546.69 372.13,574.23 380.44,559.48 388.76,544.73 397.07,528.99 405.38,528.01 413.7,524.73 422.01,506.37 430.32,500.14 438.64,502.44 446.95,516.86 455.27,525.06 463.58,532.92 471.89,541.45 480.21,512.27 488.52,522.76 496.83,508.34 505.15,484.08 513.46,491.62 521.78,508.01 530.09,516.21 538.4,541.45 546.72,523.09 555.03,506.37 563.34,513.26 571.66,543.74 579.97,540.46 588.29,509.32 596.6,467.04" class="ln" stroke="#000"/>
</g>
<text x="690.55" y="396.6" textLength="191.3" lengthAdjust="spacingAndGlyphs" style="font-family:'Liberation Serif',serif;font-weight:bold;font-size:15.5px" fill="#000">Wind/Böen [km/h] - [Beaufort]</text>
<rect x="672.3" y="561.95" width="253.8" height="12.15" fill="#b9f8b9"/><rect x="672.3" y="550.1" width="253.8" height="12.15" fill="#cdfab5"/><rect x="672.3" y="534.3" width="253.8" height="16.1" fill="#e2fcb2"/><rect x="672.3" y="516.52" width="253.8" height="18.07" fill="#f5fdb0"/><rect x="672.3" y="496.77" width="253.8" height="20.05" fill="#fffcb2"/><rect x="672.3" y="475.05" width="253.8" height="22.03" fill="#fff0c0"/><rect x="672.3" y="451.35" width="253.8" height="24" fill="#ffd8b9"/><rect x="672.3" y="425.67" width="253.8" height="25.98" fill="#fbc1b9"/><rect x="672.3" y="402.4" width="253.8" height="23.57" fill="#ff9797"/>
<line x1="672.3" y1="561.95" x2="926.1" y2="561.95" stroke="#8a8a80" stroke-opacity="0.42" stroke-width="1" stroke-dasharray="2,2.4"/><line x1="672.3" y1="550.1" x2="926.1" y2="550.1" stroke="#8a8a80" stroke-opacity="0.42" stroke-width="1" stroke-dasharray="2,2.4"/><line x1="672.3" y1="534.3" x2="926.1" y2="534.3" stroke="#8a8a80" stroke-opacity="0.42" stroke-width="1" stroke-dasharray="2,2.4"/><line x1="672.3" y1="516.52" x2="926.1" y2="516.52" stroke="#8a8a80" stroke-opacity="0.42" stroke-width="1" stroke-dasharray="2,2.4"/><line x1="672.3" y1="496.77" x2="926.1" y2="496.77" stroke="#8a8a80" stroke-opacity="0.42" stroke-width="1" stroke-dasharray="2,2.4"/><line x1="672.3" y1="475.05" x2="926.1" y2="475.05" stroke="#8a8a80" stroke-opacity="0.42" stroke-width="1" stroke-dasharray="2,2.4"/><line x1="672.3" y1="451.35" x2="926.1" y2="451.35" stroke="#8a8a80" stroke-opacity="0.42" stroke-width="1" stroke-dasharray="2,2.4"/><line x1="672.3" y1="425.67" x2="926.1" y2="425.67" stroke="#8a8a80" stroke-opacity="0.42" stroke-width="1" stroke-dasharray="2,2.4"/>
<text x="798.1" y="572" text-anchor="middle" fill="#9ca49c" style="font-family:'Liberation Serif',serif;font-weight:bold;font-size:9.2px">1</text><text x="798.1" y="559" text-anchor="middle" fill="#a0a6a0" style="font-family:'Liberation Serif',serif;font-weight:bold;font-size:9.2px">2</text><text x="798.1" y="545.4" text-anchor="middle" fill="#a0a6a0" style="font-family:'Liberation Serif',serif;font-weight:bold;font-size:9.2px">3</text><text x="798.1" y="528.5" text-anchor="middle" fill="#a2a6a0" style="font-family:'Liberation Serif',serif;font-weight:bold;font-size:9.2px">4</text><text x="798.1" y="510.5" text-anchor="middle" fill="#a2a5a0" style="font-family:'Liberation Serif',serif;font-weight:bold;font-size:9.2px">5</text><text x="798.1" y="489.9" text-anchor="middle" fill="#a4a4a0" style="font-family:'Liberation Serif',serif;font-weight:bold;font-size:9.2px">6</text><text x="798.1" y="466.6" text-anchor="middle" fill="#c2b2a6" style="font-family:'Liberation Serif',serif;font-weight:bold;font-size:9.2px">7</text><text x="798.1" y="442.5" text-anchor="middle" fill="#ffffff" style="font-family:'Liberation Serif',serif;font-weight:bold;font-size:9.2px">8</text><text x="798.1" y="417.5" text-anchor="middle" fill="#ffffff" style="font-family:'Liberation Serif',serif;font-weight:bold;font-size:9.2px">9</text>
<line x1="672.3" y1="402.4" x2="672.3" y2="579.4" class="ax" style="stroke-width:1.9;stroke:#5c5c5a"/>
<line x1="666.3" y1="573.8" x2="926.1" y2="573.8" class="ax" style="stroke-width:1.8;stroke:#222"/>
<line x1="666.3" y1="554.05" x2="672.3" y2="554.05" class="ax" style="stroke-width:1.35"/><line x1="666.3" y1="534.3" x2="672.3" y2="534.3" class="ax" style="stroke-width:1.35"/><line x1="666.3" y1="514.55" x2="672.3" y2="514.55" class="ax" style="stroke-width:1.35"/><line x1="666.3" y1="494.8" x2="672.3" y2="494.8" class="ax" style="stroke-width:1.35"/><line x1="666.3" y1="475.05" x2="672.3" y2="475.05" class="ax" style="stroke-width:1.35"/><line x1="666.3" y1="455.3" x2="672.3" y2="455.3" class="ax" style="stroke-width:1.35"/><line x1="666.3" y1="435.55" x2="672.3" y2="435.55" class="ax" style="stroke-width:1.35"/><line x1="666.3" y1="415.8" x2="672.3" y2="415.8" class="ax" style="stroke-width:1.35"/>
<line x1="672.3" y1="573.8" x2="672.3" y2="579.6" class="ax" style="stroke-width:1"/><line x1="681.05" y1="573.8" x2="681.05" y2="579.6" class="ax" style="stroke-width:1"/><line x1="689.8" y1="573.8" x2="689.8" y2="579.6" class="ax" style="stroke-width:1"/><line x1="698.56" y1="573.8" x2="698.56" y2="579.6" class="ax" style="stroke-width:1"/><line x1="707.31" y1="573.8" x2="707.31" y2="579.6" class="ax" style="stroke-width:1"/><line x1="716.06" y1="573.8" x2="716.06" y2="579.6" class="ax" style="stroke-width:1"/><line x1="724.81" y1="573.8" x2="724.81" y2="579.6" class="ax" style="stroke-width:1"/><line x1="733.56" y1="573.8" x2="733.56" y2="579.6" class="ax" style="stroke-width:1"/><line x1="742.31" y1="573.8" x2="742.31" y2="579.6" class="ax" style="stroke-width:1"/><line x1="751.07" y1="573.8" x2="751.07" y2="579.6" class="ax" style="stroke-width:1"/><line x1="759.82" y1="573.8" x2="759.82" y2="579.6" class="ax" style="stroke-width:1"/><line x1="768.57" y1="573.8" x2="768.57" y2="579.6" class="ax" style="stroke-width:1"/><line x1="777.32" y1="573.8" x2="777.32" y2="579.6" class="ax" style="stroke-width:1"/><line x1="786.07" y1="573.8" x2="786.07" y2="579.6" class="ax" style="stroke-width:1"/><line x1="794.82" y1="573.8" x2="794.82" y2="579.6" class="ax" style="stroke-width:1"/><line x1="803.58" y1="573.8" x2="803.58" y2="579.6" class="ax" style="stroke-width:1"/><line x1="812.33" y1="573.8" x2="812.33" y2="579.6" class="ax" style="stroke-width:1"/><line x1="821.08" y1="573.8" x2="821.08" y2="579.6" class="ax" style="stroke-width:1"/><line x1="829.83" y1="573.8" x2="829.83" y2="579.6" class="ax" style="stroke-width:1"/><line x1="838.58" y1="573.8" x2="838.58" y2="579.6" class="ax" style="stroke-width:1"/><line x1="847.33" y1="573.8" x2="847.33" y2="579.6" class="ax" style="stroke-width:1"/><line x1="856.09" y1="573.8" x2="856.09" y2="579.6" class="ax" style="stroke-width:1"/><line x1="864.84" y1="573.8" x2="864.84" y2="579.6" class="ax" style="stroke-width:1"/><line x1="873.59" y1="573.8" x2="873.59" y2="579.6" class="ax" style="stroke-width:1"/><line x1="882.34" y1="573.8" x2="882.34" y2="579.6" class="ax" style="stroke-width:1"/><line x1="891.09" y1="573.8" x2="891.09" y2="579.6" class="ax" style="stroke-width:1"/><line x1="899.84" y1="573.8" x2="899.84" y2="579.6" class="ax" style="stroke-width:1"/><line x1="908.6" y1="573.8" x2="908.6" y2="579.6" class="ax" style="stroke-width:1"/><line x1="917.35" y1="573.8" x2="917.35" y2="579.6" class="ax" style="stroke-width:1"/><line x1="926.1" y1="573.8" x2="926.1" y2="579.6" class="ax" style="stroke-width:1"/>
<g class="lbl"><text transform="translate(671.6,591.9) scale(1.04,0.93)" text-anchor="middle" style="font-size:10px">01</text><text transform="translate(680.35,602.9) scale(1.04,0.93)" text-anchor="middle" style="font-size:10px">02</text><text transform="translate(689.1,591.9) scale(1.04,0.93)" text-anchor="middle" style="font-size:10px">03</text><text transform="translate(697.86,602.9) scale(1.04,0.93)" text-anchor="middle" style="font-size:10px">04</text><text transform="translate(706.61,591.9) scale(1.04,0.93)" text-anchor="middle" style="font-size:10px">05</text><text transform="translate(715.36,602.9) scale(1.04,0.93)" text-anchor="middle" style="font-size:10px">06</text><text transform="translate(724.11,591.9) scale(1.04,0.93)" text-anchor="middle" style="font-size:10px">07</text><text transform="translate(732.86,602.9) scale(1.04,0.93)" text-anchor="middle" style="font-size:10px">08</text><text transform="translate(741.61,591.9) scale(1.04,0.93)" text-anchor="middle" style="font-size:10px">09</text><text transform="translate(750.37,602.9) scale(1.04,0.93)" text-anchor="middle" style="font-size:10px">10</text><text transform="translate(759.12,591.9) scale(1.04,0.93)" text-anchor="middle" style="font-size:10px">11</text><text transform="translate(767.87,602.9) scale(1.04,0.93)" text-anchor="middle" style="font-size:10px">12</text><text transform="translate(776.62,591.9) scale(1.04,0.93)" text-anchor="middle" style="font-size:10px">13</text><text transform="translate(785.37,602.9) scale(1.04,0.93)" text-anchor="middle" style="font-size:10px">14</text><text transform="translate(794.12,591.9) scale(1.04,0.93)" text-anchor="middle" style="font-size:10px">15</text><text transform="translate(802.88,602.9) scale(1.04,0.93)" text-anchor="middle" style="font-size:10px">16</text><text transform="translate(811.63,591.9) scale(1.04,0.93)" text-anchor="middle" style="font-size:10px">17</text><text transform="translate(820.38,602.9) scale(1.04,0.93)" text-anchor="middle" style="font-size:10px">18</text><text transform="translate(829.13,591.9) scale(1.04,0.93)" text-anchor="middle" style="font-size:10px">19</text><text transform="translate(837.88,602.9) scale(1.04,0.93)" text-anchor="middle" style="font-size:10px">20</text><text transform="translate(846.63,591.9) scale(1.04,0.93)" text-anchor="middle" style="font-size:10px">21</text><text transform="translate(855.39,602.9) scale(1.04,0.93)" text-anchor="middle" style="font-size:10px">22</text><text transform="translate(864.14,591.9) scale(1.04,0.93)" text-anchor="middle" style="font-size:10px">23</text><text transform="translate(872.89,602.9) scale(1.04,0.93)" text-anchor="middle" style="font-size:10px">24</text><text transform="translate(881.64,591.9) scale(1.04,0.93)" text-anchor="middle" style="font-size:10px">25</text><text transform="translate(890.39,602.9) scale(1.04,0.93)" text-anchor="middle" style="font-size:10px">26</text><text transform="translate(899.14,591.9) scale(1.04,0.93)" text-anchor="middle" style="font-size:10px">27</text><text transform="translate(907.9,602.9) scale(1.04,0.93)" text-anchor="middle" style="font-size:10px">28</text><text transform="translate(916.65,591.9) scale(1.04,0.93)" text-anchor="middle" style="font-size:10px">29</text><text transform="translate(925.4,602.9) scale(1.04,0.93)" text-anchor="middle" style="font-size:10px">30</text></g>
<g class="lbl"><text x="661.3" y="576.9" text-anchor="end" stroke="#000" stroke-width="0.14" style="font-size:11px">0</text><text x="661.3" y="557.15" text-anchor="end" stroke="#000" stroke-width="0.14" style="font-size:11px">10</text><text x="661.3" y="537.4" text-anchor="end" stroke="#000" stroke-width="0.14" style="font-size:11px">20</text><text x="661.3" y="517.65" text-anchor="end" stroke="#000" stroke-width="0.14" style="font-size:11px">30</text><text x="661.3" y="497.9" text-anchor="end" stroke="#000" stroke-width="0.14" style="font-size:11px">40</text><text x="661.3" y="478.15" text-anchor="end" stroke="#000" stroke-width="0.14" style="font-size:11px">50</text><text x="661.3" y="458.4" text-anchor="end" stroke="#000" stroke-width="0.14" style="font-size:11px">60</text><text x="661.3" y="438.65" text-anchor="end" stroke="#000" stroke-width="0.14" style="font-size:11px">70</text><text x="661.3" y="418.9" text-anchor="end" stroke="#000" stroke-width="0.14" style="font-size:11px">80</text></g>
<polyline points="672.3,519.29 681.05,510.01 689.8,525.81 698.56,510.01 707.31,542 716.06,538.64 724.81,500.53 733.56,538.64 742.31,542 751.07,548.32 759.82,532.52 768.57,523.04 777.32,535.48 786.07,522.65 794.82,522.65 803.58,535.48 812.33,532.52 821.08,496.97 829.83,538.45 838.58,538.64 847.33,542 856.09,532.52 864.84,513.37 873.59,548.32 882.34,542 891.09,545.16 899.84,510.01 908.6,516.33 917.35,513.37 926.1,523.04" class="ln" stroke="#1f78c8" stroke-width="1.35"/>
<polyline points="672.3,562.74 681.05,558.79 689.8,566.49 698.56,563.33 707.31,569.65 716.06,569.06 724.81,564.12 733.56,568.07 742.31,569.85 751.07,570.25 759.82,564.91 768.57,566.49 777.32,569.65 786.07,561.55 794.82,567.68 803.58,569.65 812.33,566.1 821.08,557.01 829.83,569.85 838.58,566.49 847.33,570.25 856.09,564.91 864.84,561.75 873.59,572.22 882.34,571.43 891.09,568.47 899.84,560.37 908.6,557.6 917.35,564.71 926.1,568.86" class="ln" stroke="#0a0a0a"/>
</svg></body></html>
